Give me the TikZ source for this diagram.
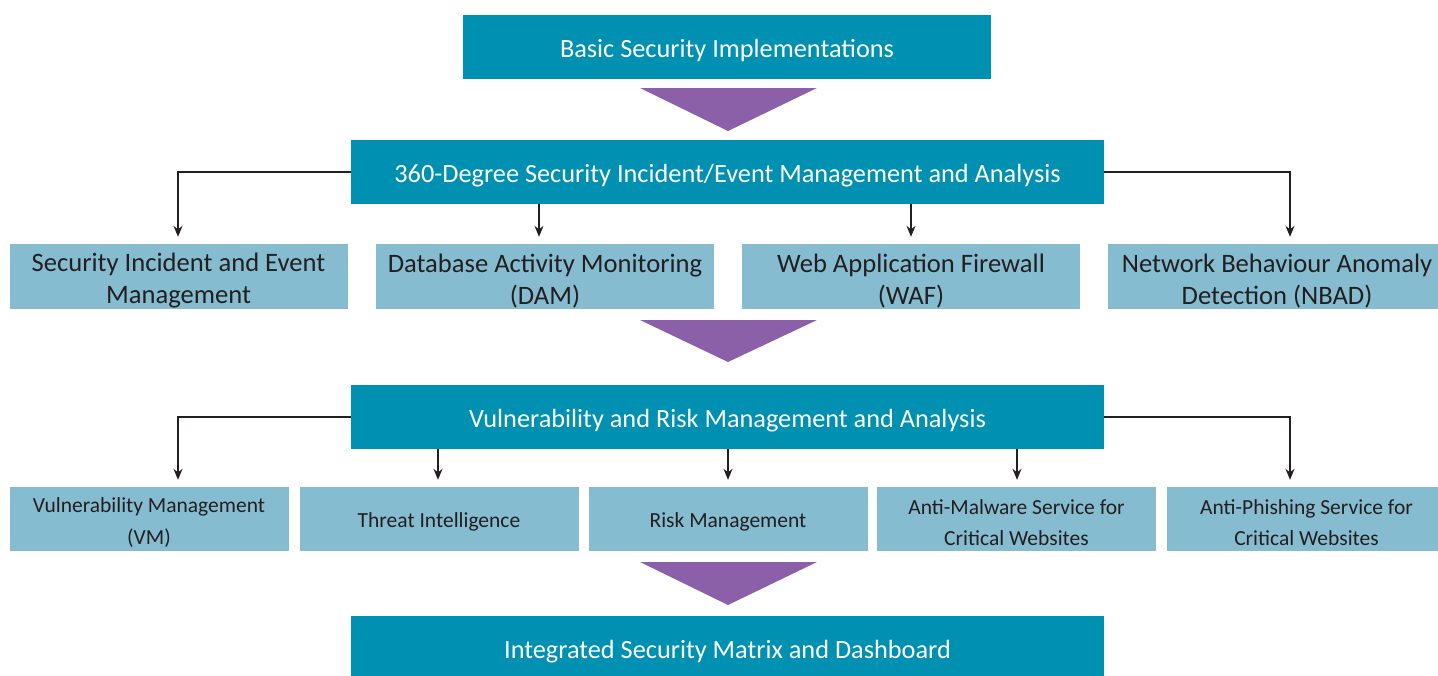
\documentclass[tikz,border=0pt]{standalone}
\usepackage{fontspec}
\setmainfont{Carlito}
\usetikzlibrary{arrows.meta,positioning,calc}
\definecolor{teal}{RGB}{0,145,178}
\definecolor{lightb}{RGB}{133,188,208}
\definecolor{purp}{RGB}{139,96,168}
\definecolor{ink}{RGB}{35,31,32}
\newcommand{\lowstrut}{\rule{0pt}{0.95em}}
\newcommand{\twostrut}{\rule{0pt}{1.01em}}
\tikzset{
  headbox/.style={fill=teal, text=white, inner sep=0pt, minimum height=64pt, align=center,
    font=\fontsize{26.3}{31}\selectfont, execute at begin node=\lowstrut},
  subbox/.style={fill=lightb, text=ink, inner sep=0pt, minimum height=65pt, minimum width=338pt,
    align=center, font=\fontsize{26.6}{32}\selectfont},
  smallbox/.style={fill=lightb, text=ink, inner sep=0pt, minimum height=64pt, minimum width=279pt,
    align=center, font=\fontsize{21.5}{31.5}\selectfont, execute at begin node=\lowstrut},
  arr/.style={draw=ink, line width=1.3pt, -{Stealth[length=11pt,width=9pt]}},
  bigarrow/.style={fill=purp, draw=none},
}
\begin{document}
\begin{tikzpicture}[x=1pt,y=-1pt]
\useasboundingbox (0,0) rectangle (1438,675);
% header boxes
\node[headbox, minimum width=528pt] (top) at (727,47) {Basic Security Implementations};
\node[headbox, minimum width=753pt] (h2) at (727.5,172) {360-Degree Security Incident/Event Management and Analysis};
\node[headbox, minimum width=753pt] (h3) at (727.5,417) {Vulnerability and Risk Management and Analysis};
\node[headbox, minimum width=753pt] (h4) at (727.5,648) {Integrated Security Matrix and Dashboard};
% big arrows
\fill[bigarrow] (640,88) -- (817,88) -- (728,131) -- cycle;
\fill[bigarrow] (640,320) -- (817,320) -- (728,362) -- cycle;
\fill[bigarrow] (640,562) -- (817,562) -- (728,605) -- cycle;
% row 1
\node[subbox] (siem) at (178.5,276.5) {\twostrut Security Incident and Event\\Management};
\node[subbox] (dam) at (545,276.5) {\twostrut Database Activity Monitoring\\(DAM)};
\node[subbox] (waf) at (911,276.5) {\twostrut Web Application Firewall\\(WAF)};
\node[subbox] (nbad) at (1277,276.5) {\twostrut Network Behaviour Anomaly\\Detection (NBAD)};
% row 2
\node[smallbox] (vm) at (149,519) {\twostrut Vulnerability Management\\(VM)};
\node[smallbox] (ti) at (439,519) {Threat Intelligence};
\node[smallbox] (rm) at (728,519) {Risk Management};
\node[smallbox] (am) at (1016.5,519) {\twostrut Anti-Malware Service for\\Critical Websites};
\node[smallbox] (ap) at (1306.5,519) {\twostrut Anti-Phishing Service for\\Critical Websites};
% connectors row 1
\coordinate (t1) at ($(siem.north)+(-0.5,-7)$);
\coordinate (t2) at ($(dam.north)+(-6,-7)$);
\coordinate (t3) at ($(waf.north)+(0,-7)$);
\coordinate (t4) at ($(nbad.north)+(13,-7)$);
\draw[arr] (h2.west) -| (t1);
\draw[arr] (h2.south -| t2) -- (t2);
\draw[arr] (h2.south -| t3) -- (t3);
\draw[arr] (h2.east) -| (t4);
% connectors row 2
\coordinate (u1) at ($(vm.north)+(29,-7)$);
\coordinate (u2) at ($(ti.north)+(-1,-7)$);
\coordinate (u3) at ($(rm.north)+(0,-7)$);
\coordinate (u4) at ($(am.north)+(0.5,-7)$);
\coordinate (u5) at ($(ap.north)+(-16.5,-7)$);
\draw[arr] (h3.west) -| (u1);
\draw[arr] (h3.south -| u2) -- (u2);
\draw[arr] (h3.south -| u3) -- (u3);
\draw[arr] (h3.south -| u4) -- (u4);
\draw[arr] (h3.east) -| (u5);
\end{tikzpicture}
\end{document}
